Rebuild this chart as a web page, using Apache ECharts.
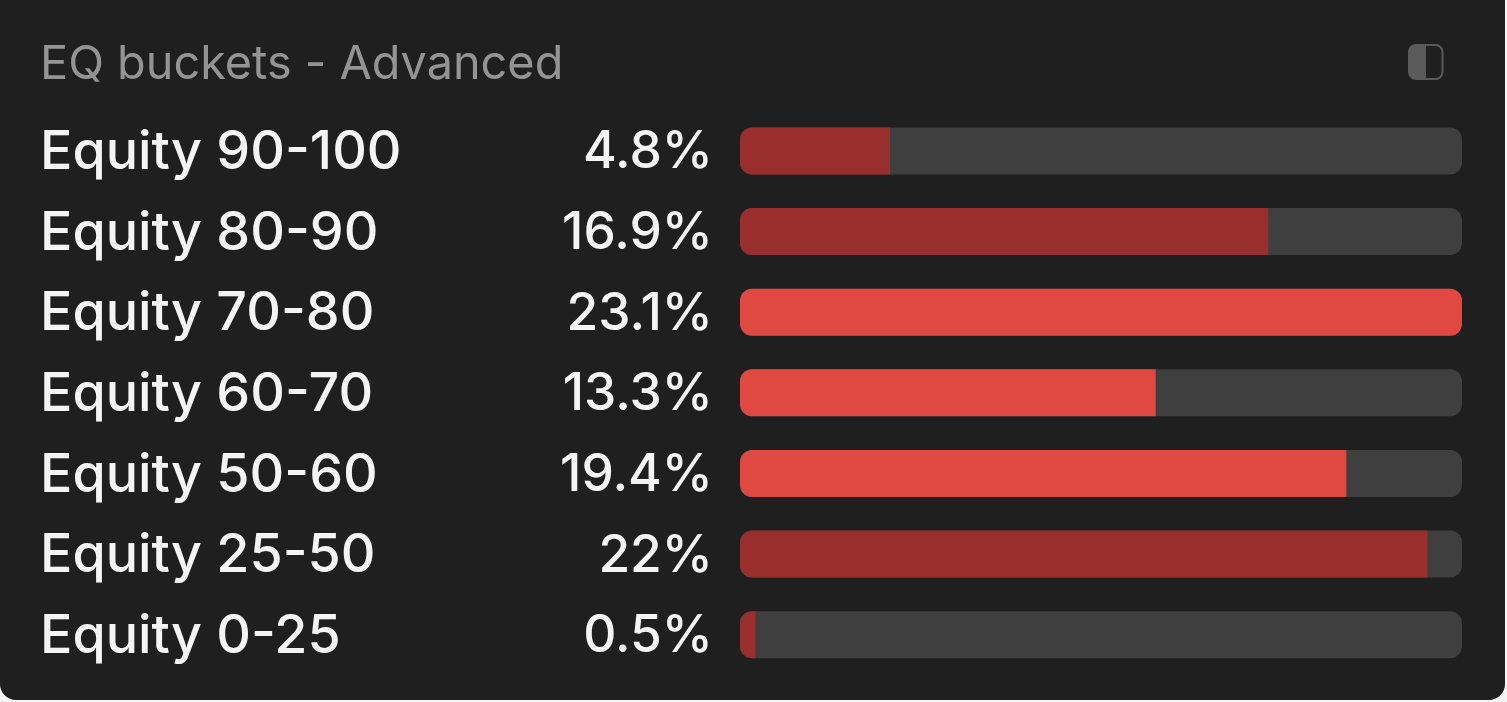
<!DOCTYPE html>
<html>
<head>
<meta charset="utf-8">
<style>
html,body{margin:0;padding:0;background:#f4f4f4;overflow:hidden}
#chart{width:1507px;height:702px}
</style>
<script src="https://cdn.jsdelivr.net/npm/echarts@6/dist/echarts.min.js"></script>
</head>
<body>
<div id="chart"></div>
<script>
const categories = ['Equity 90-100','Equity 80-90','Equity 70-80','Equity 60-70','Equity 50-60','Equity 25-50','Equity 0-25'];
const values = [4.8,16.9,23.1,13.3,19.4,22,0.5];
const highlighted = [false,false,true,true,true,false,false];
const titleText = 'EQ buckets - Advanced';
const BRIGHT='#e04941', DARK='#982f2c';

const chart = echarts.init(document.getElementById('chart'), null, {renderer:'canvas'});
const font = 'Inter';
const labelRich = size => ({t:{color:'#f4f4f4',fontFamily:font,fontWeight:500,fontSize:size,padding:[4,0,0,0]}});
chart.setOption({
  animation:false,
  backgroundColor:'transparent',
  title:{text:titleText,left:35,top:32,textStyle:{color:'#949494',fontFamily:font,fontWeight:400,fontSize:46.8,lineHeight:56}},
  grid:{left:740,right:45,top:110.7,bottom:27,containLabel:false},
  xAxis:{type:'value',min:0,max:23.1,show:false},
  yAxis:[
    {type:'category',inverse:true,data:categories,position:'left',
     axisLine:{show:false},axisTick:{show:false},
     axisLabel:{align:'left',margin:700,formatter:v=>'{t|'+v+'}',rich:labelRich(53.8)}},
    {type:'category',inverse:true,data:values.map(v=>v+'%'),position:'left',
     axisLine:{show:false},axisTick:{show:false},
     axisLabel:{align:'right',margin:27,formatter:v=>'{t|'+v+'}',rich:labelRich(51.5)}}
  ],
  series:[{
    type:'bar',yAxisIndex:0,barWidth:47,
    showBackground:true,
    backgroundStyle:{color:'#3f3f3f',borderRadius:12},
    data:values.map((v,i)=>({value:v,itemStyle:{
      color:highlighted[i]?BRIGHT:DARK,
      borderRadius:v>=23.1?12:[12,0,0,12]}}))
  }],
  graphic:[
    {type:'rect',z:-10,shape:{x:0,y:0,width:1505,height:700,r:[0,0,16,16]},style:{fill:'#1f1f1f'}},
    {type:'rect',z:5,shape:{x:1409,y:45,width:17,height:34,r:[7,0,0,7]},style:{fill:'#5a5a5a'}},
    {type:'rect',z:5,shape:{x:1409,y:45,width:33.5,height:34,r:7},style:{fill:'transparent',stroke:'#5a5a5a',lineWidth:2}}
  ]
});
</script>
</body>
</html>
